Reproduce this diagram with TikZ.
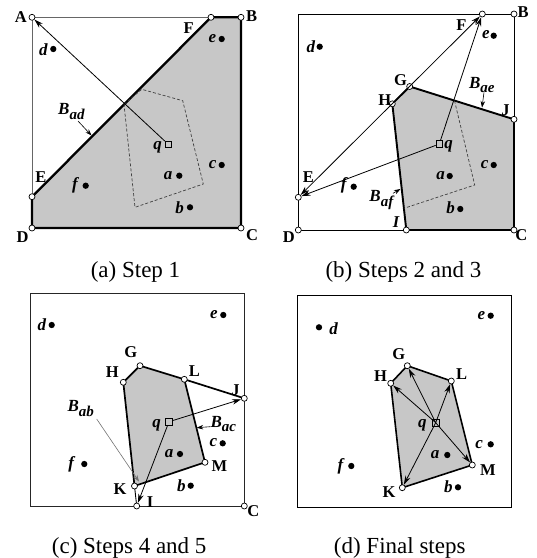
\documentclass[tikz,border=0pt]{standalone}
\usepackage{fontspec}
\setmainfont{Liberation Serif}
\usetikzlibrary{arrows.meta}
\newcommand{\Blab}[1]{\textit{B}\raisebox{-4.5pt}{\fontsize{15}{15}\selectfont\textit{#1}}}
\tikzset{
  vtx/.style={circle, draw, fill=white, inner sep=0pt, minimum size=6pt, line width=0.7pt},
  pt/.style={circle, fill=black, inner sep=0pt, minimum size=6.3pt},
  qsq/.style={rectangle, draw, inner sep=0pt, minimum size=6.5pt, line width=0.8pt},
  lab/.style={font=\fontsize{16.5}{16.5}\selectfont\bfseries, inner sep=0pt},
  plab/.style={font=\fontsize{17}{17}\selectfont\bfseries\itshape, inner sep=0pt},
  blab/.style={font=\fontsize{17}{17}\selectfont\bfseries, inner sep=0pt},
  capt/.style={font=\fontsize{23}{23}\selectfont, anchor=base, inner sep=0pt},
  arr/.style={-{Stealth[length=9pt,width=5.5pt]}, line width=0.8pt},
  darr/.style={{Stealth[length=9pt,width=5.5pt]}-{Stealth[length=9pt,width=5.5pt]}, line width=0.8pt},
  ptr/.style={-{Stealth[length=6.5pt,width=4.5pt]}, line width=0.6pt},
  cell/.style={fill=black!22, line join=round},
  dsh/.style={dash pattern=on 3pt off 2pt, line width=0.7pt, black!75},
}
\begin{document}
\begin{tikzpicture}[x=1pt,y=-1pt]
\useasboundingbox (0,0) rectangle (537,558);
% ================= panel (a) =================
\coordinate (aA) at (32,17.3); \coordinate (aB) at (241,17.3);
\coordinate (aC) at (241,228); \coordinate (aD) at (32,228);
\coordinate (aE) at (32,196.7); \coordinate (aF) at (211,17.3);
\coordinate (aq) at (168.5,144.5);
\draw[black!60, line width=0.9pt] (aA) rectangle (aC);
\filldraw[cell, line width=2.3pt] (aE) -- (aF) -- (aB) -- (aC) -- (aD) -- cycle;
\draw[dsh] (124,104.5) -- (141.7,89.3) -- (182.7,100.7) -- (203.3,184) -- (135,207.3) -- cycle;
\node[qsq] (aqn) at (aq) {};
\foreach \n in {A,B,C,D,E,F} {\node[vtx] (a\n v) at (a\n) {};}
\draw[arr] (aqn) -- (aAv);
\node[lab] (aAl) at (20.8,17) {A};
\node[lab] (aBl) at (251.7,16.2) {B};
\node[lab] (aFl) at (188.7,28.3) {F};
\node[lab] (aEl) at (41,176.7) {E};
\node[lab] (aDl) at (22.5,236.7) {D};
\node[lab] (aCl) at (252,235.3) {C};
\node[plab] (aql) at (157.5,147.5) {q};
\node[pt] (ad) at (53.3,49) {};   \node[plab] (adl) at (43.3,49.7) {d};
\node[pt] (ae) at (221.7,39) {};  \node[plab] (ael) at (212.5,39) {e};
\node[pt] (ac) at (221.7,165) {}; \node[plab] (acl) at (212.7,165) {c};
\node[pt] (aa) at (179.3,175.7) {}; \node[plab] (aal) at (168,175.3) {a};
\node[pt] (ab) at (190,207.3) {}; \node[plab] (abl) at (179.5,207.5) {b};
\node[pt] (af) at (85.7,185.7) {}; \node[plab] (afl) at (75,185) {f};
\node[blab] (aBad) at (71.5,111.5) {\Blab{ad}};
\coordinate (aBadS) at (78,121); \coordinate (aBadT) at (91.5,135.5);
\draw[ptr] (aBadS) -- (aBadT);
\node[capt] (capa) at (135.5,277) {(a) Step 1};
% ================= panel (b) =================
\coordinate (bTL) at (298.3,14); \coordinate (bB) at (514,14);
\coordinate (bC) at (514,230); \coordinate (bD) at (298.3,230);
\coordinate (bF) at (482.3,14); \coordinate (bE) at (298.3,197.3);
\coordinate (bG) at (409.7,86.5); \coordinate (bH) at (392.3,103.8);
\coordinate (bJ) at (514,119.3); \coordinate (bI) at (406.3,230);
\coordinate (bq) at (439.3,144);
\fill[cell] (bH) -- (bG) -- (bJ) -- (bC) -- (bI) -- cycle;
\draw[line width=0.9pt] (bTL) rectangle (bC);
\draw[line width=1.9pt, line join=round] (bH) -- (bG) -- (bJ) -- (bC) -- (bI) -- cycle;
\draw[dsh] (454.5,100.7) -- (474.7,185) -- (404,208.3);
\node[qsq] (bqn) at (bq) {};
\foreach \n in {B,C,D,E,F,G,H,J,I} {\node[vtx] (b\n v) at (b\n) {};}
\draw[darr] (bEv) -- (bFv);
\draw[arr] (bqn) -- (bFv);
\draw[arr] (bqn) -- (bEv);
\node[lab] (bBl) at (523,12.5) {B};
\node[lab] (bFl) at (461.3,25) {F};
\node[lab] (bGl) at (400.5,80) {G};
\node[lab] (bHl) at (384.7,100) {H};
\node[lab] (bJl) at (505.5,110.5) {J};
\node[lab] (bEl) at (308.3,176.7) {E};
\node[lab] (bDl) at (288.8,236.7) {D};
\node[lab] (bCl) at (521.3,235.3) {C};
\node[lab] (bIl) at (396.3,221.7) {\textit{I}};
\node[plab] (bql) at (448.5,146) {q};
\node[pt] (bd) at (319.7,46.7) {};  \node[plab] (bdl) at (310.8,47) {d};
\node[pt] (be) at (493.7,35.7) {};  \node[plab] (bel) at (486,35) {e};
\node[pt] (bc) at (493.7,165) {};   \node[plab] (bcl) at (484.7,165) {c};
\node[pt] (ba) at (449.7,176) {};   \node[plab] (bal) at (440.5,175.8) {a};
\node[pt] (bb) at (460.3,209) {};   \node[plab] (bbl) at (450.5,208) {b};
\node[pt] (bf) at (353.7,186.7) {}; \node[plab] (bfl) at (343.8,185.8) {f};
\node[blab] (bBae) at (481.8,85) {\Blab{ae}};
\coordinate (bBaeS) at (484,92.3); \coordinate (bBaeT) at (482,107.5);
\draw[ptr] (bBaeS) -- (bBaeT);
\node[blab] (bBaf) at (382,200) {\Blab{af}};
\coordinate (bBafS) at (393,193.3); \coordinate (bBafT) at (400.5,189);
\draw[ptr] (bBafS) -- (bBafT);
\node[capt] (capb) at (403.5,277) {(b) Steps 2 and 3};
% ================= panel (c) =================
\coordinate (cTL) at (30,293.3); \coordinate (cC) at (244.3,506);
\coordinate (cG) at (140,365.7); \coordinate (cH) at (123.3,382.3);
\coordinate (cL) at (184.3,379.3); \coordinate (cJ) at (244.3,398.3);
\coordinate (cM) at (205,462.3); \coordinate (cK) at (134.5,486);
\coordinate (cI) at (136.7,506); \coordinate (cq) at (169,421.7);
\fill[cell] (cH) -- (cG) -- (cL) -- (cM) -- (cK) -- cycle;
\draw[black!85, line width=0.9pt] (cTL) rectangle (cC);
\draw[line width=1.7pt, line join=round] (cH) -- (cG) -- (cL) -- (cM) -- (cK) -- cycle;
\draw[line width=1.7pt] (cL) -- (cJ);
\draw[line width=0.9pt] (cK) -- (cI);
\node[qsq] (cqn) at (cq) {};
\foreach \n in {G,H,L,J,M,K,I,C} {\node[vtx] (c\n v) at (c\n) {};}
\draw[arr] (cqn) -- (cJv);
\draw[arr] (cqn) -- (cIv);
\node[lab] (cGl) at (130.8,351.7) {G};
\node[lab] (cHl) at (112.2,371.7) {H};
\node[lab] (cLl) at (194.3,370.8) {L};
\node[lab] (cJl) at (235.5,390) {J};
\node[lab] (cMl) at (219.5,466.2) {M};
\node[lab] (cKl) at (120,489.2) {K};
\node[lab] (cIl) at (150,502.2) {I};
\node[lab] (cCl) at (253.3,511.2) {C};
\node[plab] (cql) at (156.7,425) {q};
\node[pt] (cd) at (51.7,325) {};    \node[plab] (cdl) at (42,325) {d};
\node[pt] (ce) at (223.3,315) {};   \node[plab] (cel) at (213.8,315) {e};
\node[pt] (cc) at (222.7,443.3) {}; \node[plab] (ccl) at (213.3,442.8) {c};
\node[pt] (ca) at (180,454) {};     \node[plab] (cal) at (169.2,453.5) {a};
\node[pt] (cb) at (190.7,485.7) {}; \node[plab] (cbl) at (181.3,485.5) {b};
\node[pt] (cf) at (84.3,464) {};    \node[plab] (cfl) at (71.2,464.7) {f};
\node[blab] (cBab) at (80.8,408.3) {\Blab{ab}};
\coordinate (cBabS) at (96.7,419); \coordinate (cBabT) at (139,481.5);
\draw[ptr, black!55] (cBabS) -- (cBabT);
\node[blab] (cBac) at (223.3,424.2) {\Blab{ac}};
\coordinate (cBacS) at (210,426.7); \coordinate (cBacT) at (196.7,427.7);
\draw[ptr] (cBacS) -- (cBacT);
\node[capt] (capc) at (129.2,553) {(c) Steps 4 and 5};
% ================= panel (d) =================
\coordinate (dTL) at (297.3,295); \coordinate (dBR) at (511.3,507.7);
\coordinate (dG) at (407.3,365.7); \coordinate (dH) at (390.7,383.3);
\coordinate (dL) at (451.3,381); \coordinate (dM) at (472.3,465);
\coordinate (dK) at (402.3,487.7); \coordinate (dq) at (435.7,422.7);
\fill[cell] (dH) -- (dG) -- (dL) -- (dM) -- (dK) -- cycle;
\draw[line width=0.9pt] (dTL) rectangle (dBR);
\draw[line width=1.6pt, line join=round] (dH) -- (dG) -- (dL) -- (dM) -- (dK) -- cycle;
\node[qsq] (dqn) at (dq) {};
\foreach \n in {G,H,L,M,K} {\node[vtx] (d\n v) at (d\n) {};}
\foreach \n in {G,H,L,M,K} {\draw[arr] (dq) -- (d\n v);}
\node[lab] (dGl) at (398.8,354.5) {G};
\node[lab] (dHl) at (380.5,376) {H};
\node[lab] (dLl) at (461.7,374.5) {L};
\node[lab] (dMl) at (487.8,470.5) {M};
\node[lab] (dKl) at (389,492.2) {K};
\node[plab] (dql) at (422.3,425.5) {q};
\node[pt] (dd) at (319,327.3) {};   \node[plab] (ddl) at (333.5,328.5) {d};
\node[pt] (de) at (490.7,315.7) {}; \node[plab] (del) at (481.3,315.5) {e};
\node[pt] (dc) at (490.7,444.3) {}; \node[plab] (dcl) at (479.2,444.2) {c};
\node[pt] (da) at (447.3,455) {};   \node[plab] (dal) at (435,455) {a};
\node[pt] (db) at (458,487.3) {};   \node[plab] (dbl) at (448.3,486.7) {b};
\node[pt] (df) at (351.3,466) {};   \node[plab] (dfl) at (340.5,466.3) {f};
\node[capt] (capd) at (399.7,553) {(d) Final steps};
\end{tikzpicture}
\end{document}
